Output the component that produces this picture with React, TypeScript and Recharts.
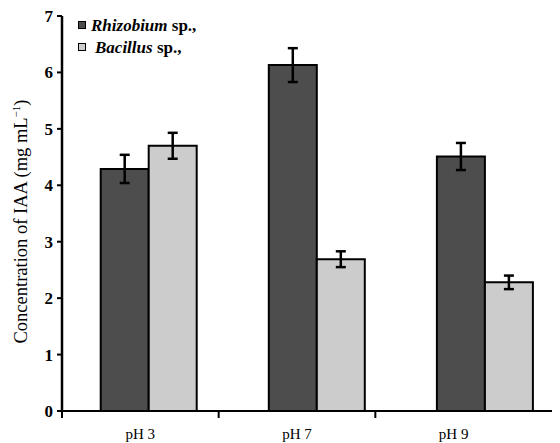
import { BarChart, Bar, XAxis, YAxis, ErrorBar, Legend } from 'recharts';

const categories = ['pH 3', 'pH 7', 'pH 9'];
const rhizobium = [4.29, 6.13, 4.51];
const rhizobiumErr = [0.25, 0.3, 0.24];
const bacillus = [4.7, 2.69, 2.28];
const bacillusErr = [0.23, 0.14, 0.12];
const yTicks = [0, 1, 2, 3, 4, 5, 6, 7];

const SERIF = '"Liberation Serif", "Times New Roman", serif';
const DARK = '#4d4d4d';
const LIGHT = '#cccccc';

const data = categories.map((ph, i) => ({
  ph,
  rhizobium: rhizobium[i],
  rhizobiumErr: rhizobiumErr[i],
  bacillus: bacillus[i],
  bacillusErr: bacillusErr[i],
}));

// labels sit in the middle of each band, tick marks on the band's left edge
function PhTick(props: any) {
  const { x, y, payload } = props;
  const left = x - (payload.offset || 0);
  return (
    <g>
      <line x1={left} y1={y} x2={left} y2={y + 7} stroke="#000" strokeWidth={2} />
      <text x={x} y={y + 28} textAnchor="middle" style={{ fontFamily: SERIF }} fontSize={15} fill="#000">
        {payload.value}
      </text>
    </g>
  );
}

function ValueTick(props: any) {
  const { x, y, payload } = props;
  return (
    <text
      x={x}
      y={y}
      dy={6}
      textAnchor="end"
      style={{ fontFamily: SERIF, fontWeight: 'bold' }}
      fontSize={17}
      fill="#000"
    >
      {payload.value}
    </text>
  );
}

function YTitle(props: any) {
  const { viewBox } = props;
  const cx = viewBox.x + 19;
  const cy = viewBox.y + viewBox.height / 2 + 8;
  return (
    <text
      x={cx}
      y={cy}
      transform={`rotate(-90, ${cx}, ${cy})`}
      textAnchor="middle"
      style={{ fontFamily: SERIF }}
      fontSize={18.5}
      fill="#000"
    >
      Concentration of IAA (mg mL
      <tspan dy={-7} fontSize={11}>−1</tspan>
      <tspan dy={7}>)</tspan>
    </text>
  );
}

function LegendBox() {
  const square = (color: string) => (
    <span
      style={{
        display: 'inline-block',
        width: 6,
        height: 6,
        background: color,
        border: '1.5px solid #000',
        marginRight: 5,
        verticalAlign: 'middle',
        position: 'relative',
        top: -2,
      }}
    />
  );
  return (
    <div style={{ fontFamily: SERIF, fontSize: 17, fontWeight: 'bold', lineHeight: '22px', color: '#000' }}>
      <div>
        {square(DARK)}
        <i>Rhizobium</i> sp.,
      </div>
      <div>
        {square(LIGHT)}
        <span style={{ marginLeft: 4 }}>
          <i>Bacillus</i> sp.,
        </span>
      </div>
    </div>
  );
}

export default function App() {
  return (
    <div style={{ width: 552, height: 435, overflow: 'hidden', position: 'relative', fontFamily: SERIF }}>
      <BarChart
        width={600}
        height={435}
        data={data}
        margin={{ top: 8, right: 0, left: 0, bottom: 0 }}
        barGap={0}
        barSize={48}
      >
        <XAxis
          xAxisId="labels"
          dataKey="ph"
          height={32}
          padding={{ left: 0, right: 76 }}
          interval={0}
          tickLine={false}
          tickSize={0}
          tickMargin={0}
          axisLine={{ stroke: '#000', strokeWidth: 2 }}
          tick={<PhTick />}
        />
        <XAxis xAxisId="bars" dataKey="ph" hide height={0} padding={{ left: 2.7, right: 39 }} />
        <YAxis
          width={54}
          domain={[0, 7]}
          ticks={yTicks}
          interval={0}
          tickSize={5}
          tickMargin={4}
          axisLine={{ stroke: '#000', strokeWidth: 2.5 }}
          tickLine={{ stroke: '#000', strokeWidth: 2 }}
          tick={<ValueTick />}
          label={<YTitle />}
        />
        <Legend
          layout="vertical"
          align="center"
          verticalAlign="middle"
          content={<LegendBox />}
          wrapperStyle={{ top: 7, left: 70, width: 'auto', height: 'auto' }}
        />
        <Bar
          xAxisId="bars"
          dataKey="rhizobium"
          fill={DARK}
          stroke="#000"
          strokeWidth={2}
          isAnimationActive={false}
        >
          <ErrorBar dataKey="rhizobiumErr" width={5} stroke="#000" strokeWidth={2.5} />
        </Bar>
        <Bar
          xAxisId="bars"
          dataKey="bacillus"
          fill={LIGHT}
          stroke="#000"
          strokeWidth={2}
          isAnimationActive={false}
        >
          <ErrorBar dataKey="bacillusErr" width={5} stroke="#000" strokeWidth={2.5} />
        </Bar>
      </BarChart>
    </div>
  );
}
